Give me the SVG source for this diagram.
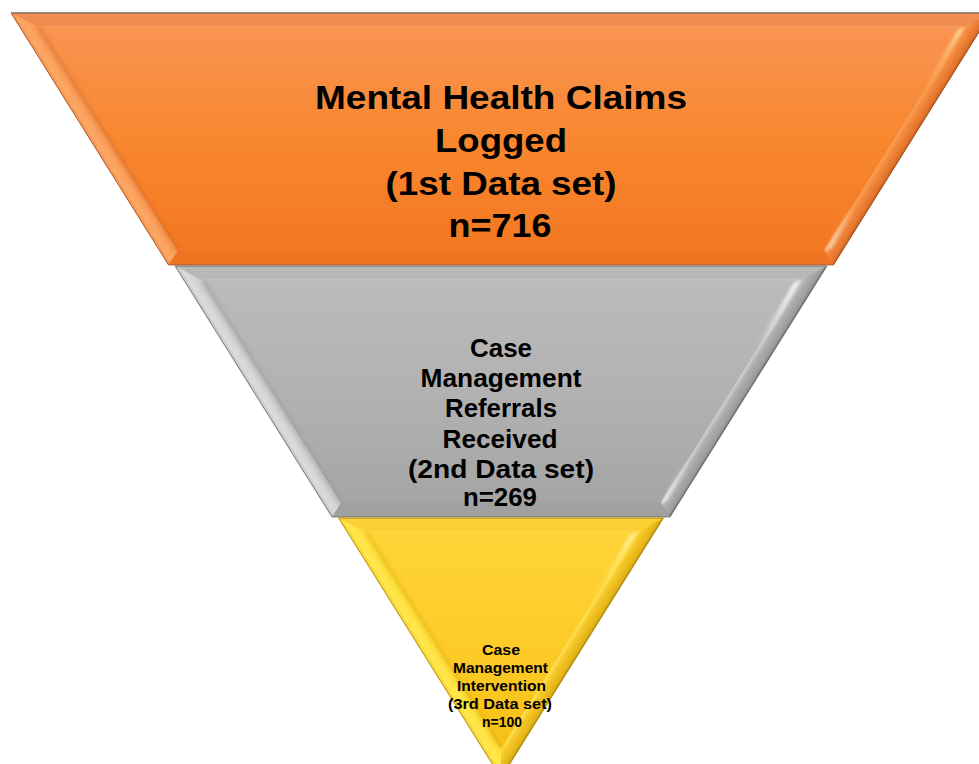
<svg xmlns="http://www.w3.org/2000/svg" width="979" height="764" viewBox="0 0 979 764">
  <defs>
    <style>
      .lbl { font-family: "Liberation Sans", Arial, sans-serif; font-weight: bold; fill: #000; text-anchor: middle; }
      .t1 { font-size: 34px; }
      .t2 { font-size: 25px; }
      .t3 { font-size: 15.5px; }
      .edge { fill: none; stroke-width: 1; stroke-linejoin: miter; }
      .glint { filter: url(#soft); }
    </style>
    <filter id="soft" x="-20%" y="-20%" width="140%" height="140%">
      <feGaussianBlur stdDeviation="1.6"/>
    </filter>
    <filter id="shade" x="-20%" y="-20%" width="140%" height="140%">
      <feGaussianBlur stdDeviation="2.2"/>
    </filter>

    <!-- body fills -->
    <linearGradient id="bodyOrange" x1="0" y1="0" x2="0" y2="1">
      <stop offset="0" stop-color="#F99556"/>
      <stop offset="0.5" stop-color="#F8872F"/>
      <stop offset="1" stop-color="#F27620"/>
    </linearGradient>
    <linearGradient id="bodyGray" x1="0" y1="0" x2="0" y2="1">
      <stop offset="0" stop-color="#BCBCBC"/>
      <stop offset="0.5" stop-color="#B2B2B2"/>
      <stop offset="1" stop-color="#A3A3A3"/>
    </linearGradient>
    <linearGradient id="bodyYellow" x1="0" y1="0" x2="0" y2="1">
      <stop offset="0" stop-color="#FFD53A"/>
      <stop offset="0.5" stop-color="#FDCB28"/>
      <stop offset="1" stop-color="#F4BC10"/>
    </linearGradient>

    <!-- left bevel faces (across the face, outer edge to inner edge) -->
    <linearGradient id="leftOrange" gradientUnits="userSpaceOnUse" x1="89.75" y1="139" x2="102.73" y2="130.89">
      <stop offset="0" stop-color="#F78E4A"/>
      <stop offset="0.25" stop-color="#FCA866"/>
      <stop offset="1" stop-color="#FB9A55"/>
    </linearGradient>
    <linearGradient id="leftGray" gradientUnits="userSpaceOnUse" x1="253.44" y1="391.5" x2="266.42" y2="383.39">
      <stop offset="0" stop-color="#BDBDBD"/>
      <stop offset="0.25" stop-color="#DCDCDC"/>
      <stop offset="1" stop-color="#CACACA"/>
    </linearGradient>
    <linearGradient id="leftYellow" gradientUnits="userSpaceOnUse" x1="419.75" y1="648" x2="432.73" y2="639.89">
      <stop offset="0" stop-color="#F6CC20"/>
      <stop offset="0.25" stop-color="#FFE84E"/>
      <stop offset="1" stop-color="#FFDF3A"/>
    </linearGradient>

    <!-- right bevel faces -->
    <linearGradient id="rightOrange" gradientUnits="userSpaceOnUse" x1="912.25" y1="139" x2="899.27" y2="130.89">
      <stop offset="0" stop-color="#B85A1C"/>
      <stop offset="0.15" stop-color="#E2722A"/>
      <stop offset="0.7" stop-color="#F38A3E"/>
      <stop offset="1" stop-color="#F9A258"/>
    </linearGradient>
    <linearGradient id="rightGray" gradientUnits="userSpaceOnUse" x1="748.56" y1="391.5" x2="735.58" y2="383.39">
      <stop offset="0" stop-color="#6E6E6E"/>
      <stop offset="0.15" stop-color="#9A9A9A"/>
      <stop offset="0.7" stop-color="#B0B0B0"/>
      <stop offset="1" stop-color="#D2D2D2"/>
    </linearGradient>
    <linearGradient id="rightYellow" gradientUnits="userSpaceOnUse" x1="582.25" y1="648" x2="569.27" y2="639.89">
      <stop offset="0" stop-color="#B88E0A"/>
      <stop offset="0.15" stop-color="#E4B416"/>
      <stop offset="0.7" stop-color="#F6C828"/>
      <stop offset="1" stop-color="#FFE25A"/>
    </linearGradient>

    <!-- glint strips fading down the right face -->
    <linearGradient id="glintOrange" x1="0" y1="0" x2="0" y2="1">
      <stop offset="0" stop-color="#FFE6A6" stop-opacity="1"/>
      <stop offset="0.45" stop-color="#FFC47A" stop-opacity="0.5"/>
      <stop offset="1" stop-color="#FFB060" stop-opacity="0"/>
    </linearGradient>
    <linearGradient id="glintGray" x1="0" y1="0" x2="0" y2="1">
      <stop offset="0" stop-color="#FFFFFF" stop-opacity="1"/>
      <stop offset="0.45" stop-color="#FFFFFF" stop-opacity="0.5"/>
      <stop offset="1" stop-color="#FFFFFF" stop-opacity="0"/>
    </linearGradient>
    <linearGradient id="glintYellow" x1="0" y1="0" x2="0" y2="1">
      <stop offset="0" stop-color="#FFF6A0" stop-opacity="1"/>
      <stop offset="0.45" stop-color="#FFF080" stop-opacity="0.5"/>
      <stop offset="1" stop-color="#FFEA60" stop-opacity="0"/>
    </linearGradient>
    <linearGradient id="glintUp" x1="0" y1="1" x2="0" y2="0">
      <stop offset="0" stop-color="#FFFFFF" stop-opacity="0.55"/>
      <stop offset="1" stop-color="#FFFFFF" stop-opacity="0"/>
    </linearGradient>
  </defs>

  <!-- Tier 1: claims logged -->
  <g id="tier1">
    <polygon points="11,13 991,13 833.5,265 168.5,265" fill="url(#bodyOrange)"/>
    <!-- top bevel -->
    <polygon points="11,13 991,13 964.25,27 37.75,27" fill="#F08C52"/>
    <line x1="37.75" y1="26.5" x2="964.25" y2="26.5" stroke="#FBA064" stroke-width="1.5" opacity="0.6"/>
    <!-- left bevel -->
    <polygon points="168.5,265 11,13 37.75,27 177.75,251" fill="url(#leftOrange)"/>
    <!-- right bevel -->
    <polygon points="991,13 833.5,265 824.25,251 964.25,27" fill="url(#rightOrange)"/>
    <polygon class="glint" points="964.25,27 958,30 918,96 926,94" fill="url(#glintOrange)"/>
    <polygon class="glint" points="824.25,251 832,248 858,205 850,206" fill="url(#glintUp)"/>
    <!-- bottom bevel -->
    <polygon points="833.5,265 168.5,265 177.75,251 824.25,251" fill="#EE7422"/>
    <!-- inner edge shading -->
    <polyline points="38,27 178,251" fill="none" stroke="#C8622A" stroke-width="3" opacity="0.55" filter="url(#shade)"/>
    <polyline points="178,251 824,251" fill="none" stroke="#C85E1A" stroke-width="2" opacity="0.3" filter="url(#shade)"/>
    <!-- outer edge -->
    <polygon class="edge" points="11,13 991,13 833.5,265 168.5,265" stroke="#8A4A20" stroke-opacity="0.7"/>
    <line x1="11" y1="13" x2="991" y2="13" stroke="#8A7A70" stroke-width="1.5"/>
    <text class="lbl t1" x="501" y="109" textLength="372" lengthAdjust="spacingAndGlyphs">Mental Health Claims</text>
    <text class="lbl t1" x="501" y="152" textLength="132" lengthAdjust="spacingAndGlyphs">Logged</text>
    <text class="lbl t1" x="501" y="195" textLength="231" lengthAdjust="spacingAndGlyphs">(1st Data set)</text>
    <text class="lbl t1" x="500" y="237" textLength="103" lengthAdjust="spacingAndGlyphs">n=716</text>
  </g>

  <!-- Tier 2: case management referrals -->
  <g id="tier2">
    <polygon points="175,266 827,266 670,517 332,517" fill="url(#bodyGray)"/>
    <polygon points="175,266 827,266 800.25,280 201.75,280" fill="#B8B8B8"/>
    <line x1="201.75" y1="279.5" x2="800.25" y2="279.5" stroke="#C6C6C6" stroke-width="1.5" opacity="0.8"/>
    <polygon points="332,517 175,266 201.75,280 341.13,503" fill="url(#leftGray)"/>
    <polygon points="827,266 670,517 660.87,503 800.25,280" fill="url(#rightGray)"/>
    <polygon class="glint" points="800.25,280 794,283 754,349 762,347" fill="url(#glintGray)"/>
    <polygon class="glint" points="660.87,503 668,500 694,457 686,458" fill="url(#glintUp)"/>
    <polygon points="670,517 332,517 341.13,503 660.87,503" fill="#A0A0A0"/>
    <polyline points="202,280 341,503" fill="none" stroke="#8E8E8E" stroke-width="3" opacity="0.55" filter="url(#shade)"/>
    <polyline points="341,503 661,503" fill="none" stroke="#8A8A8A" stroke-width="2" opacity="0.25" filter="url(#shade)"/>
    <polygon class="edge" points="175,266 827,266 670,517 332,517" stroke="#5E5E5E" stroke-opacity="0.7"/>
    <line x1="175" y1="266" x2="827" y2="266" stroke="#8C8C8C" stroke-width="1"/>
    <text class="lbl t2" x="501" y="357" textLength="62" lengthAdjust="spacingAndGlyphs">Case</text>
    <text class="lbl t2" x="501" y="387" textLength="161" lengthAdjust="spacingAndGlyphs">Management</text>
    <text class="lbl t2" x="501" y="417" textLength="112" lengthAdjust="spacingAndGlyphs">Referrals</text>
    <text class="lbl t2" x="500" y="447.5" textLength="115" lengthAdjust="spacingAndGlyphs">Received</text>
    <text class="lbl t2" x="501" y="477.5" textLength="186" lengthAdjust="spacingAndGlyphs">(2nd Data set)</text>
    <text class="lbl t2" x="500" y="506" textLength="74" lengthAdjust="spacingAndGlyphs">n=269</text>
  </g>

  <!-- Tier 3: case management intervention -->
  <g id="tier3">
    <polygon points="338.5,518 663.5,518 501,778" fill="url(#bodyYellow)"/>
    <polygon points="338.5,518 663.5,518 636.75,532 365.25,532" fill="#FCCF34"/>
    <line x1="365.25" y1="531.5" x2="636.75" y2="531.5" stroke="#FFDC50" stroke-width="1.5" opacity="0.7"/>
    <polygon points="501,778 338.5,518 365.25,532 501,749" fill="url(#leftYellow)"/>
    <polygon points="663.5,518 501,778 501,749 636.75,532" fill="url(#rightYellow)"/>
    <polygon class="glint" points="636.75,532 630,535 590,601 598,599" fill="url(#glintYellow)"/>
    <polyline points="366,532 501,749" fill="none" stroke="#D4A010" stroke-width="3" opacity="0.5" filter="url(#shade)"/>
    <polygon class="edge" points="338.5,518 663.5,518 501,778" stroke="#9A7A08" stroke-opacity="0.7"/>
    <line x1="338.5" y1="518" x2="663.5" y2="518" stroke="#D0A428" stroke-width="1"/>
    <text class="lbl t3" x="501" y="655" textLength="38" lengthAdjust="spacingAndGlyphs">Case</text>
    <text class="lbl t3" x="500.5" y="673" textLength="95" lengthAdjust="spacingAndGlyphs">Management</text>
    <text class="lbl t3" x="501.5" y="691" textLength="89" lengthAdjust="spacingAndGlyphs">Intervention</text>
    <text class="lbl t3" x="500" y="709" textLength="104" lengthAdjust="spacingAndGlyphs">(3rd Data set)</text>
    <text class="lbl t3" x="502" y="727" textLength="40" lengthAdjust="spacingAndGlyphs">n=100</text>
  </g>
</svg>
